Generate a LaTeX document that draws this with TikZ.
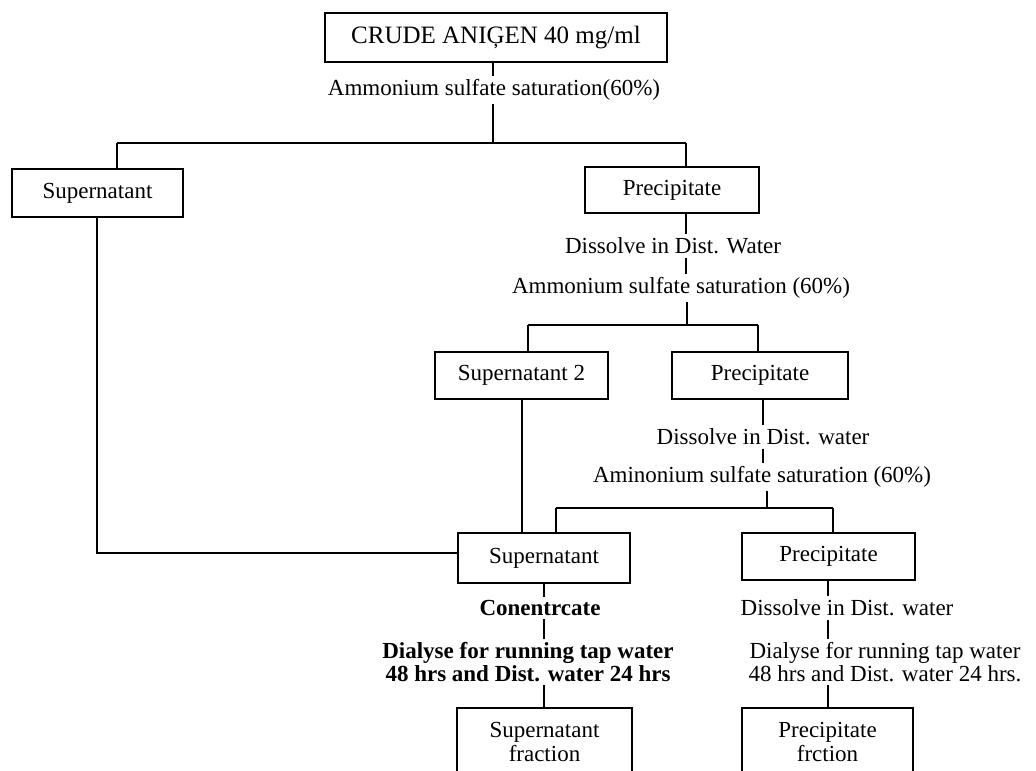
\documentclass[tikz,border=0pt]{standalone}
\usepackage{fontspec}
\setmainfont{Liberation Serif}
\begin{document}
\begin{tikzpicture}[x=0.5pt,y=-0.5pt,
  box/.style={draw,line width=0.6pt,inner sep=0pt,align=center,font=\fontsize{11.5}{9.5}\selectfont},
  lbl/.style={inner sep=1.5pt,align=center,font=\fontsize{11.5}{8.5}\selectfont},
  blbl/.style={inner sep=1.5pt,align=center,font=\fontsize{11.5}{8.5}\selectfont\bfseries},
  conn/.style={line width=0.6pt}]
\useasboundingbox (0,0) rectangle (1036,770);
% boxes
\node[box,minimum width=171pt,minimum height=24.5pt,font=\fontsize{12.5}{14}\selectfont] (top) at (496,37.5) {CRUDE ANIĢEN 40 mg/ml};
\node[box,minimum width=85.5pt,minimum height=24pt] (sup1) at (97.5,193) {Supernatant};
\node[box,minimum width=87pt,minimum height=23pt] (prec1) at (672,190) {Precipitate};
\node[box,minimum width=86.5pt,minimum height=23.5pt] (sup2) at (521.5,375.5) {Supernatant 2};
\node[box,minimum width=88pt,minimum height=23.5pt] (prec2) at (760,375.5) {Precipitate};
\node[box,minimum width=86pt,minimum height=25pt] (sup3) at (544,558) {Supernatant};
\node[box,minimum width=86.5pt,minimum height=23.5pt] (prec3) at (828.5,556.5) {Precipitate};
\node[box,minimum width=87.5pt,minimum height=34pt] (sf) at (544.5,742) {Supernatant\\fraction};
\node[box,minimum width=85.5pt,minimum height=34pt] (pf) at (827.5,742) {Precipitate\\frction};
% labels
\node[lbl] (l1) at (494,90) {Ammonium sulfate saturation(60\%)};
\node[lbl] (l2) at (673,246) {Dissolve in Dist. Water};
\node[lbl] (l3) at (681,288) {Ammonium sulfate saturation (60\%)};
\node[lbl] (l4) at (763,437) {Dissolve in Dist. water};
\node[lbl] (l5) at (762,477) {Aminonium sulfate saturation (60\%)};
\node[blbl] (l6) at (540,608) {Conentrcate};
\node[blbl] (l7) at (528,662) {Dialyse for running tap water\\48 hrs and Dist. water 24 hrs};
\node[lbl] (l8) at (847,608) {Dissolve in Dist. water};
\node[lbl] (l9) at (885,662) {Dialyse for running tap water\\48 hrs and Dist. water 24 hrs.};
% junction coordinates
\coordinate (j1) at (493,143);
\coordinate (j1L) at (117,143);
\coordinate (j1R) at (686,143);
\coordinate (j2) at (687,325);
\coordinate (j2L) at (528,325);
\coordinate (j2R) at (758,325);
\coordinate (k2) at (763,0);
\coordinate (j3) at (767,508);
\coordinate (j3L) at (556,508);
\coordinate (j3R) at (833,508);
\coordinate (k3) at (522,0);
\coordinate (k1) at (97,553);
\coordinate (k4) at (544,0);
\coordinate (k5) at (828,0);
% connectors
\draw[conn] (top.south -| j1) -- (l1.north -| j1);
\draw[conn] (l1.south -| j1) -- (j1);
\draw[conn] (j1L) -- (j1R);
\draw[conn] (j1L) -- (sup1.north -| j1L);
\draw[conn] (j1R) -- (prec1.north -| j1R);
\draw[conn] (prec1.south -| j1R) -- (l2.north -| j1R);
\draw[conn] (l2.south -| j1R) -- (l3.north -| j1R);
\draw[conn] (l3.south -| j2) -- (j2);
\draw[conn] (j2L) -- (j2R);
\draw[conn] (j2L) -- (sup2.north -| j2L);
\draw[conn] (j2R) -- (prec2.north -| j2R);
\draw[conn] (prec2.south -| k2) -- (l4.north -| k2);
\draw[conn] (l4.south -| k2) -- (l5.north -| k2);
\draw[conn] (l5.south -| j3) -- (j3);
\draw[conn] (j3L) -- (j3R);
\draw[conn] (j3L) -- (sup3.north -| j3L);
\draw[conn] (j3R) -- (prec3.north -| j3R);
\draw[conn] (sup2.south -| k3) -- (sup3.north -| k3);
\draw[conn] (sup1.south -| k1) -- (k1) -- (sup3.west |- k1);
\draw[conn] (sup3.south -| k4) -- (l6.north -| k4);
\draw[conn] (l6.south -| k4) -- (l7.north -| k4);
\draw[conn] (l7.south -| k4) -- (sf.north -| k4);
\draw[conn] (prec3.south -| k5) -- (l8.north -| k5);
\draw[conn] (l8.south -| k5) -- (l9.north -| k5);
\draw[conn] (l9.south -| k5) -- (pf.north -| k5);
\end{tikzpicture}
\end{document}
